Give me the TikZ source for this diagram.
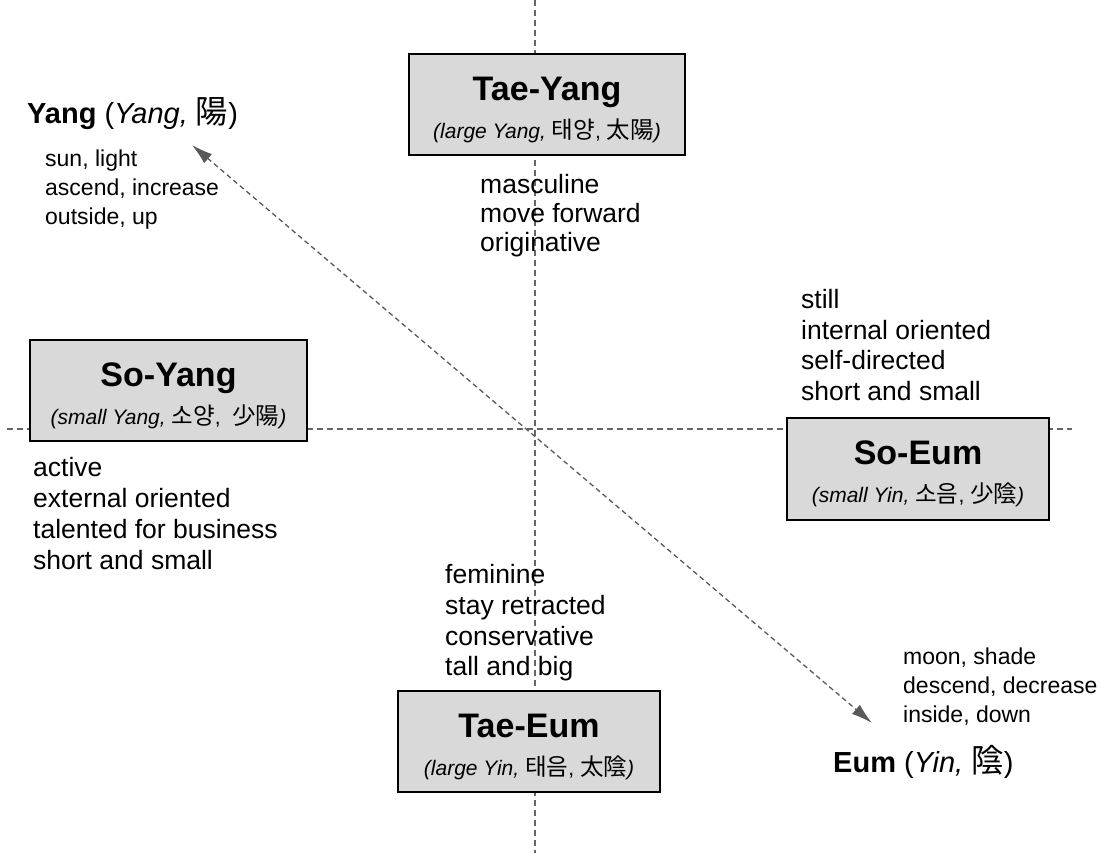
\documentclass[tikz,border=0pt]{standalone}
\usepackage{fontspec}
\setmainfont{Liberation Sans}
\newfontfamily\krfont[Scale=1.12]{Noto Sans CJK KR}
\usetikzlibrary{arrows.meta}
\newcommand\boxtitle{\bfseries\fontsize{34}{38}\selectfont\rule{0pt}{34pt}}
\begin{document}
\begin{tikzpicture}[x=1pt,y=-1pt,
  axis/.style={draw=black!60, line width=1.2pt, dash pattern=on 6pt off 4pt},
  diag/.style={draw=black!65, line width=1.3pt, dash pattern=on 5pt off 3.5pt,
    {Latex[length=21pt,width=12pt]}-{Latex[length=21pt,width=12pt]}},
  quad/.style={draw=black, line width=2pt, fill=black!15, inner sep=0pt,
    align=center, font=\fontsize{21}{38}\selectfont},
  small/.style={inner sep=0pt, align=left, anchor=west, font=\fontsize{23}{29}\selectfont},
  medium/.style={inner sep=0pt, align=left, anchor=west, font=\fontsize{26.5}{30.7}\selectfont},
  pole/.style={inner sep=0pt, anchor=west, font=\fontsize{29}{34}\selectfont},
]
\useasboundingbox (0,0) rectangle (1100,853);
% axes
\coordinate (vtop) at (535,0);
\coordinate (vbot) at (535,853);
\coordinate (hleft) at (7,429);
\coordinate (hright) at (1072,429);
\draw[axis] (vtop) -- (vbot);
\draw[axis] (hleft) -- (hright);
% diagonal arrow
\coordinate (yangtip) at (192,145);
\coordinate (eumtip) at (872,723);
\draw[diag] (yangtip) -- (eumtip);
% boxes
\node[quad, minimum width=276pt, minimum height=101pt] (taeyang) at (547,104.5)
  {{\boxtitle Tae-Yang}\\{\itshape (large Yang,} {\krfont 태양}, {\krfont 太陽}{\itshape )}};
\node[quad, minimum width=277pt, minimum height=101pt] (soyang) at (168.5,390.5)
  {{\boxtitle So-Yang}\\{\itshape (small Yang,} {\krfont 소양}, \ {\krfont 少陽}{\itshape )}};
\node[quad, minimum width=262pt, minimum height=102pt] (soeum) at (918,469)
  {{\boxtitle So-Eum}\\{\itshape (small Yin,} {\krfont 소음}, {\krfont 少陰}{\itshape )}};
\node[quad, minimum width=262pt, minimum height=101pt] (taeeum) at (529,741.5)
  {{\boxtitle Tae-Eum}\\{\itshape (large Yin,} {\krfont 태음}, {\krfont 太陰}{\itshape )}};
% poles
\node[pole] (yang) at (27,114) {\textbf{Yang} (\textit{Yang,} {\krfont 陽})};
\node[pole] (eum) at (833,762) {\textbf{Eum} (\textit{Yin,} {\krfont 陰})};
% descriptions
\node[small] (yangdesc) at (45,190) {sun, light\\ascend, increase\\outside, up};
\node[small] (eumdesc) at (903,687) {moon, shade\\descend, decrease\\inside, down};
\node[medium, font=\fontsize{26.5}{29}\selectfont] (taeyangdesc) at (480,216) {masculine\\move forward\\originative};
\node[medium] (soeumdesc) at (801,345) {still\\internal oriented\\self-directed\\short and small};
\node[medium] (soyangdesc) at (33,513.5) {active\\external oriented\\talented for business\\short and small};
\node[medium] (taeeumdesc) at (445,623) {feminine\\stay retracted\\conservative\\tall and big};
\end{tikzpicture}
\end{document}
